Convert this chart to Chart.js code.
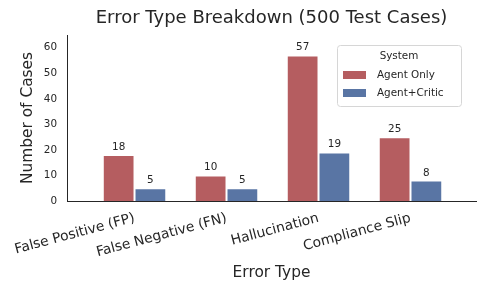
<!DOCTYPE html>
<html>
<head>
<meta charset="utf-8">
<script src="https://cdn.jsdelivr.net/npm/chart.js@4.4.1/dist/chart.umd.min.js"></script>
<style>
  html, body { margin: 0; padding: 0; background: #fff; }
  #wrap { width: 486px; height: 290px; }
</style>
</head>
<body>
<div id="wrap"><canvas id="chart" width="486" height="290"></canvas></div>
<script>
const categories = ['False Positive (FP)', 'False Negative (FN)', 'Hallucination', 'Compliance Slip'];
const seriesNames = ['Agent Only', 'Agent+Critic'];
const agentOnly = [18, 10, 57, 25];
const agentCritic = [5, 5, 19, 8];
const yTicks = [0, 10, 20, 30, 40, 50, 60];

const ink = '#262626';
const font = 'DejaVu Sans';
const colors = ['#b55d60', '#5975a4'];

// title centred over the axes, not the whole canvas
const axesTitle = {
    id: 'axesTitle',
    afterDraw(chart) {
        const ctx = chart.ctx, a = chart.chartArea;
        ctx.save();
        ctx.fillStyle = ink;
        ctx.font = '18px "' + font + '"';
        ctx.textAlign = 'center';
        ctx.textBaseline = 'middle';
        ctx.fillText('Error Type Breakdown (500 Test Cases)', (a.left + a.right) / 2, 18);
        ctx.restore();
    }
};

// numbers above every bar
const barLabels = {
    id: 'barLabels',
    afterDatasetsDraw(chart) {
        const ctx = chart.ctx;
        ctx.save();
        ctx.fillStyle = ink;
        ctx.font = '10.4px "' + font + '"';
        ctx.textAlign = 'center';
        ctx.textBaseline = 'alphabetic';
        chart.data.datasets.forEach((ds, i) => {
            chart.getDatasetMeta(i).data.forEach((bar, j) => {
                ctx.fillText(String(ds.data[j].y), bar.x, bar.y - 5);
            });
        });
        ctx.restore();
    }
};

// legend box like matplotlib, upper right inside the axes
const boxLegend = {
    id: 'boxLegend',
    afterDraw(chart) {
        const ctx = chart.ctx;
        const x = 337, y = 45, w = 124, h = 61;
        ctx.save();
        ctx.fillStyle = 'rgba(255,255,255,0.85)';
        ctx.strokeStyle = '#d6d6d6';
        ctx.lineWidth = 1;
        ctx.beginPath();
        ctx.roundRect(x + 0.5, y + 0.5, w, h, 3);
        ctx.fill();
        ctx.stroke();
        ctx.fillStyle = ink;
        ctx.font = '10.4px "' + font + '"';
        ctx.textAlign = 'center';
        ctx.textBaseline = 'middle';
        ctx.fillText('System', x + w / 2, y + 11);
        ctx.textAlign = 'left';
        chart.data.datasets.forEach((ds, i) => {
            const cy = y + 30 + i * 18;
            ctx.fillStyle = ds.backgroundColor;
            ctx.fillRect(x + 6, cy - 4, 23, 8);
            ctx.fillStyle = ink;
            ctx.fillText(ds.label, x + 40, cy);
        });
        ctx.restore();
    }
};

new Chart(document.getElementById('chart'), {
    type: 'bar',
    data: {
        datasets: seriesNames.map((name, k) => ({
            label: name,
            data: (k === 0 ? agentOnly : agentCritic).map((v, i) => ({ x: i, y: v })),
            backgroundColor: colors[k],
            borderColor: 'rgba(255,255,255,0.45)',
            borderWidth: 1,
            categoryPercentage: 0.69,
            barPercentage: 1
        }))
    },
    options: {
        responsive: false,
        devicePixelRatio: 1,
        animation: false,
        layout: { padding: { left: 0, right: 10, top: 35, bottom: 0 } },
        plugins: {
            legend: { display: false },
            tooltip: { enabled: false },
            title: { display: false }
        },
        scales: {
            x: {
                type: 'linear',
                offset: false,
                min: -0.734,
                max: 3.712,
                grid: { display: false, drawTicks: false },
                border: { display: true, color: ink, width: 1 },
                afterBuildTicks: s => { s.ticks = categories.map((c, i) => ({ value: i })); },
                afterFit: s => { s.height = 89; s.paddingLeft = 0; s.paddingRight = 0; },
                ticks: {
                    autoSkip: false,
                    minRotation: 15,
                    maxRotation: 15,
                    padding: 9,
                    color: ink,
                    font: { family: font, size: 13.8 },
                    callback: v => categories[v]
                },
                title: {
                    display: true,
                    text: 'Error Type',
                    color: ink,
                    font: { family: font, size: 15.4 },
                    padding: { top: 0, bottom: 7.4 }
                }
            },
            y: {
                min: 0,
                max: 65,
                grid: { display: false, drawTicks: false },
                border: { display: true, color: ink, width: 1 },
                afterBuildTicks: s => { s.ticks = yTicks.map(v => ({ value: v })); },
                afterFit: s => { s.width = 67; s.paddingTop = 0; s.paddingBottom = 0; },
                ticks: {
                    padding: 10,
                    color: ink,
                    font: { family: font, size: 10.4 }
                },
                title: {
                    display: true,
                    text: 'Number of Cases',
                    color: ink,
                    font: { family: font, size: 15.4 },
                    padding: { top: 18.3, bottom: 0 }
                }
            }
        }
    },
    plugins: [axesTitle, barLabels, boxLegend]
});
</script>
</body>
</html>
